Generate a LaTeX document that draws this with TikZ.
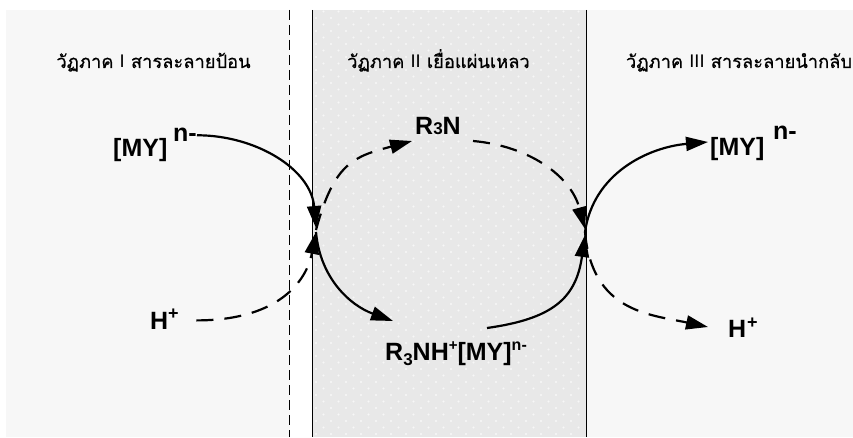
\documentclass[tikz,border=0pt]{standalone}
\usepackage{fontspec}
\setmainfont{Liberation Sans}
\newfontfamily\thaifont[Script=Thai,FakeBold=0.6]{Loma}
\usetikzlibrary{arrows.meta,calc}

\definecolor{phasebg}{HTML}{F7F7F7}
\definecolor{membranebg}{HTML}{E8E8E8}
\definecolor{dotcol}{HTML}{F7F7F7}

\newcommand{\latinnum}[1]{{\rmfamily #1}}

\tikzset{
  phasetitle/.style={font=\thaifont\fontsize{18.3}{21}\selectfont, inner sep=0pt, anchor=base},
  chem/.style={font=\bfseries\fontsize{25}{28}\selectfont, inner sep=0pt, anchor=base west},
  chemplus/.style={font=\bfseries\fontsize{18}{20}\selectfont, inner sep=0pt, anchor=base west},
  flow/.style={line width=2.2pt, -{Triangle[length=22pt,width=14pt]}},
  flowdash/.style={flow, dash pattern=on 17pt off 11pt},
}

\begin{document}
\begin{tikzpicture}[x=1pt,y=1pt]
\useasboundingbox (0,0) rectangle (853,437);
\fill[white] (0,0) rectangle (853,437);

% three phases
\fill[phasebg] (6,0) rectangle (289.5,427);
\fill[membranebg] (312,0) rectangle (586.5,427);
\fill[phasebg] (586.5,0) rectangle (853,427);

% dotted texture of the liquid membrane
\foreach \r in {0,...,65}{
  \pgfmathsetmacro\yy{3+\r*6.5}
  \pgfmathsetmacro\xo{mod(\r,2)*7.5}
  \foreach \c in {0,...,17}{
    \fill[dotcol] ({316+\xo+\c*15},\yy) circle (1.1);
  }
}

% phase boundaries
\draw[line width=1.3pt, dash pattern=on 10pt off 5pt] (289.5,427) -- (289.5,0);
\draw[line width=1pt] (312,427) -- (312,0);
\draw[line width=1.5pt] (586.5,427) -- (586.5,0);

% phase titles
\node[phasetitle] (t1) at (153.5,369) {วัฏภาค \latinnum{I} สารละลายป้อน};
\node[phasetitle] (t2) at (438.5,369) {วัฏภาค \latinnum{II} เยื่อแผ่นเหลว};
\node[phasetitle] (t3) at (739,369) {วัฏภาค \latinnum{III} สารละลายนำกลับ};

% species
\node[chem] (myL) at (113,280) {[MY]};
\node[chem] (myLs) at (173,295) {n-};
\node[chem] (hL) at (150,108) {H};
\node[chemplus] (hLs) at (168,118) {+};

\node[chem] (r3n) at (415,302) {R{\fontsize{17}{20}\selectfont 3}N};
\node[chem] (rnh) at (385,77)
  {R\raisebox{-5pt}{\fontsize{17}{17}\selectfont 3}NH\raisebox{10pt}{\fontsize{15}{15}\selectfont +}[MY]\raisebox{10pt}{\fontsize{16}{16}\selectfont n-}};

\node[chem] (myR) at (710,281) {[MY]};
\node[chem] (myRs) at (773,297) {n-};
\node[chem] (hR) at (728,100) {H};
\node[chemplus] (hRs) at (747,109) {+};

% interface junctions
\coordinate (jL) at (316,207);
\coordinate (jR) at (585,205);

% feed phase -> membrane
\draw[flow] (myLs.east) to[out=0,in=95] ([yshift=2pt]jL);
\draw[flowdash] ([xshift=28pt]hL.east) to[out=0,in=259,out distance=80pt,in distance=52pt] ([yshift=-2pt]jL);

% carrier cycle inside the membrane
\draw[flowdash] (jL) to[out=75,in=195,out distance=70pt,in distance=60pt] ($(r3n.base west)+(-3,-6)$);
\draw[flowdash] ($(r3n.base west)+(58,-6)$) to[out=-5,in=105] ([yshift=3pt]jR);
\draw[flow] ([yshift=-2pt]jL) to[out=-85,in=160] ($(rnh.base west)+(8,39)$);
\draw[flow] ($(rnh.base west)+(102,32)$) to[out=8,in=262,out distance=65pt,in distance=65pt] ([yshift=-3pt]jR);

% membrane -> stripping phase
\draw[flow] (jR) to[out=82,in=185] ($(myR.base west)+(-2,14)$);
\draw[flowdash] (jR) to[out=-85,in=168,out distance=80pt,in distance=60pt] ($(hR.base west)+(-20,10)$);
\end{tikzpicture}
\end{document}
